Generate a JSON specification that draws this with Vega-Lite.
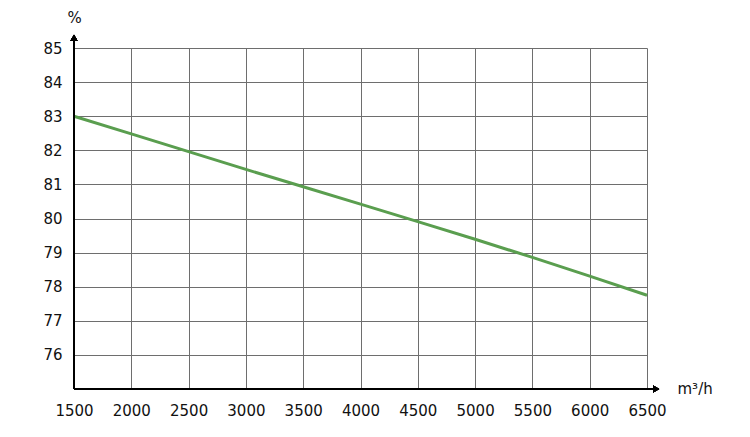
{
  "$schema": "https://vega.github.io/schema/vega-lite/v6.json",
  "width": 573,
  "height": 341,
  "autosize": {"type": "none"},
  "padding": {"left": 74, "top": 48, "right": 103, "bottom": 48},
  "background": "white",
  "config": {
    "view": {"stroke": null},
    "font": "DejaVu Sans",
    "axis": {
      "labelFont": "DejaVu Sans",
      "titleFont": "DejaVu Sans",
      "format": "d",
      "labelOverlap": false,
      "domain": false,
      "ticks": false,
      "grid": true,
      "gridColor": "#6e6e6e",
      "gridOpacity": 1,
      "gridWidth": 1,
      "labelFontSize": 15,
      "labelColor": "#111",
      "labelFlush": false,
      "titleFontSize": 15,
      "titleFontWeight": "normal",
      "titleColor": "#111",
      "titleBaseline": "middle"
    }
  },
  "data": {
    "values": [
      {"flow": 1500, "pct": 83.0},
      {"flow": 2000, "pct": 82.48},
      {"flow": 2500, "pct": 81.96},
      {"flow": 3000, "pct": 81.44},
      {"flow": 3500, "pct": 80.93},
      {"flow": 4000, "pct": 80.42},
      {"flow": 4500, "pct": 79.91},
      {"flow": 5000, "pct": 79.39},
      {"flow": 5500, "pct": 78.86},
      {"flow": 6000, "pct": 78.31},
      {"flow": 6500, "pct": 77.75}
    ]
  },
  "layer": [
    {
      "mark": {"type": "line", "color": "#5a9e4f", "strokeWidth": 3},
      "encoding": {
        "x": {
          "field": "flow",
          "type": "quantitative",
          "scale": {"domain": [1500, 6500], "nice": false, "zero": false},
          "axis": {"values": [1500, 2000, 2500, 3000, 3500, 4000, 4500, 5000, 5500, 6000, 6500], "labelPadding": 14, "title": "m³/h", "titleAnchor": "start", "titleAlign": "left", "titleX": 603, "titleY": -1}
        },
        "y": {
          "field": "pct",
          "type": "quantitative",
          "scale": {"domain": [75, 85], "nice": false, "zero": false},
          "axis": {"values": [76, 77, 78, 79, 80, 81, 82, 83, 84, 85], "labelPadding": 12, "title": "%", "titleAngle": 0, "titleAlign": "center", "titleX": 0, "titleY": -31}
        }
      }
    },
    {
      "mark": {"type": "rule", "color": "black", "strokeWidth": 1.5},
      "encoding": {
        "x": {"datum": 1500, "type": "quantitative", "axis": {"values": [1500, 2000, 2500, 3000, 3500, 4000, 4500, 5000, 5500, 6000, 6500], "labelPadding": 14, "title": "m³/h", "titleAnchor": "start", "titleAlign": "left", "titleX": 603, "titleY": -1}},
        "y": {"datum": 75, "type": "quantitative", "axis": {"values": [76, 77, 78, 79, 80, 81, 82, 83, 84, 85], "labelPadding": 12, "title": "%", "titleAngle": 0, "titleAlign": "center", "titleX": 0, "titleY": -31}},
        "y2": {"datum": 85.3}
      }
    },
    {
      "mark": {"type": "rule", "color": "black", "strokeWidth": 1.5},
      "encoding": {
        "y": {"datum": 75, "type": "quantitative", "axis": {"values": [76, 77, 78, 79, 80, 81, 82, 83, 84, 85], "labelPadding": 12, "title": "%", "titleAngle": 0, "titleAlign": "center", "titleX": 0, "titleY": -31}},
        "x": {"datum": 1500, "type": "quantitative", "axis": {"values": [1500, 2000, 2500, 3000, 3500, 4000, 4500, 5000, 5500, 6000, 6500], "labelPadding": 14, "title": "m³/h", "titleAnchor": "start", "titleAlign": "left", "titleX": 603, "titleY": -1}},
        "x2": {"datum": 6580}
      }
    },
    {
      "mark": {"type": "point", "shape": "triangle-up", "filled": true, "color": "black", "size": 50, "opacity": 1},
      "encoding": {
        "x": {"datum": 1500, "type": "quantitative", "axis": {"values": [1500, 2000, 2500, 3000, 3500, 4000, 4500, 5000, 5500, 6000, 6500], "labelPadding": 14, "title": "m³/h", "titleAnchor": "start", "titleAlign": "left", "titleX": 603, "titleY": -1}},
        "y": {"datum": 85.3, "type": "quantitative", "axis": {"values": [76, 77, 78, 79, 80, 81, 82, 83, 84, 85], "labelPadding": 12, "title": "%", "titleAngle": 0, "titleAlign": "center", "titleX": 0, "titleY": -31}}
      }
    },
    {
      "mark": {"type": "point", "shape": "triangle-right", "filled": true, "color": "black", "size": 50, "opacity": 1},
      "encoding": {
        "x": {"datum": 6580, "type": "quantitative", "axis": {"values": [1500, 2000, 2500, 3000, 3500, 4000, 4500, 5000, 5500, 6000, 6500], "labelPadding": 14, "title": "m³/h", "titleAnchor": "start", "titleAlign": "left", "titleX": 603, "titleY": -1}},
        "y": {"datum": 75, "type": "quantitative", "axis": {"values": [76, 77, 78, 79, 80, 81, 82, 83, 84, 85], "labelPadding": 12, "title": "%", "titleAngle": 0, "titleAlign": "center", "titleX": 0, "titleY": -31}}
      }
    }
  ]
}
